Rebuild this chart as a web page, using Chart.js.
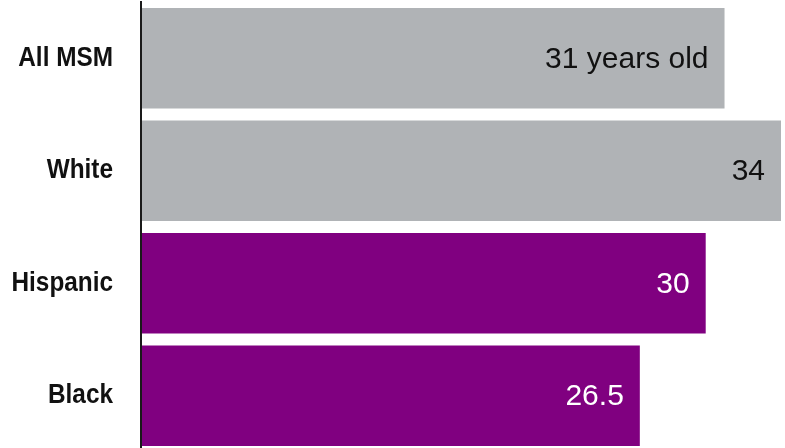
<!DOCTYPE html>
<html>
<head>
<meta charset="utf-8">
<script src="https://cdn.jsdelivr.net/npm/chart.js@4/dist/chart.umd.min.js"></script>
<style>
  html, body { margin: 0; padding: 0; background: #fff; overflow: hidden; }
  #wrap { width: 785px; height: 452px; position: relative; }
</style>
</head>
<body>
<div id="wrap"><canvas id="c"></canvas></div>
<script>
// Median age at HIV diagnosis among MSM, by race/ethnicity
const categories = ['All MSM', 'White', 'Hispanic', 'Black'];
const medianAge = [31, 34, 30, 26.5];
const valueLabels = ['31 years old', '34', '30', '26.5'];
const barColors = ['#b0b3b6', '#b0b3b6', '#800080', '#800080'];
const labelColors = ['#111111', '#111111', '#ffffff', '#ffffff'];

// Writes each value inside the right end of its bar
const barValueLabels = {
  id: 'barValueLabels',
  afterDatasetsDraw(chart) {
    const ctx = chart.ctx;
    const meta = chart.getDatasetMeta(0);
    ctx.save();
    ctx.font = '30px "Liberation Sans", Arial, sans-serif';
    ctx.textAlign = 'right';
    ctx.textBaseline = 'middle';
    meta.data.forEach((bar, i) => {
      ctx.fillStyle = labelColors[i];
      ctx.fillText(valueLabels[i], bar.x - 16, bar.y + 1);
    });
    ctx.restore();
  }
};

// Category names in a condensed bold face, right-aligned left of the axis
const condensedCategoryLabels = {
  id: 'condensedCategoryLabels',
  afterDraw(chart) {
    const ctx = chart.ctx;
    const yScale = chart.scales.y;
    const right = chart.chartArea.left - 28;
    ctx.save();
    ctx.font = 'bold 28px "Liberation Sans", Arial, sans-serif';
    ctx.fillStyle = '#111111';
    ctx.textAlign = 'right';
    ctx.textBaseline = 'middle';
    yScale.ticks.forEach((t, i) => {
      const y = yScale.getPixelForTick(i);
      ctx.save();
      ctx.translate(right, y);
      ctx.scale(0.87, 1);
      ctx.fillText(yScale.getLabelForValue(t.value), 0, 0);
      ctx.restore();
    });
    ctx.restore();
  }
};

new Chart(document.getElementById('c'), {
  type: 'bar',
  data: {
    labels: categories,
    datasets: [{
      data: medianAge,
      backgroundColor: barColors,
      borderWidth: 0,
      barPercentage: 0.895,
      categoryPercentage: 1
    }]
  },
  options: {
    indexAxis: 'y',
    responsive: true,
    maintainAspectRatio: false,
    animation: false,
    layout: { padding: { top: 2, right: 4, bottom: 0, left: 0 } },
    plugins: { legend: { display: false }, tooltip: { enabled: false } },
    scales: {
      x: { display: false, min: 0, max: 34 },
      y: {
        grid: { display: false, drawTicks: false },
        border: { display: true, color: '#1a1a1a', width: 2, z: 1 },
        ticks: { display: false },
        afterFit(scale) {
          scale.width = 141;
          scale.paddingTop = 0;
          scale.paddingBottom = 0;
        }
      }
    }
  },
  plugins: [barValueLabels, condensedCategoryLabels]
});
</script>
</body>
</html>
